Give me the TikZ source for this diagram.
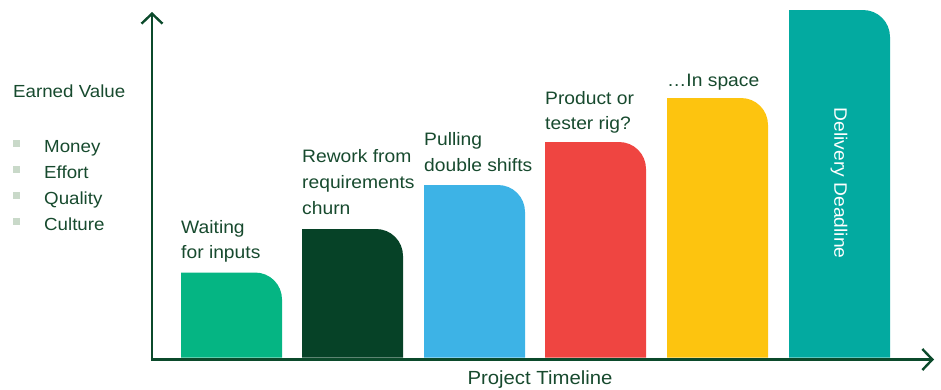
\documentclass[tikz,border=0pt]{standalone}
\usepackage{fontspec}
\setmainfont{Liberation Sans}[FakeStretch=1.07]
\usetikzlibrary{arrows.meta}
\definecolor{axisgreen}{HTML}{0B4A2B}
\definecolor{txtgreen}{HTML}{174A2E}
\definecolor{bulletgray}{HTML}{C9D9C9}
\definecolor{cA}{HTML}{05B583}
\definecolor{cB}{HTML}{064227}
\definecolor{cC}{HTML}{3DB3E6}
\definecolor{cD}{HTML}{EF4541}
\definecolor{cE}{HTML}{FDC40F}
\definecolor{cF}{HTML}{03AAA0}
\newcommand\evbar[3]{% color, left x, top y
  \fill[#1] (#2,357.5) -- (#2,#3) -- ({#2+101-27},#3)
    .. controls ({#2+101-12},#3) and ({#2+101},{#3+12}) .. ({#2+101},{#3+27})
    -- ({#2+101},357.5) -- cycle;}
\begin{document}
\begin{tikzpicture}[x=1pt,y=-1pt,
  lbl/.style={anchor=base west, inner sep=0pt, text=txtgreen, font=\fontsize{18}{20}\selectfont},
  leg/.style={anchor=base west, inner sep=0pt, text=txtgreen, font=\fontsize{17.5}{20}\selectfont},
  axisline/.style={draw=axisgreen, line width=2.4pt, -{Straight Barb[length=10pt,width=21pt,line width=2.4pt]}},
  bul/.style={fill=bulletgray}]
\useasboundingbox (0,0) rectangle (941,389);
% bars
\evbar{cA}{181}{272.5}
\evbar{cB}{302}{229}
\evbar{cC}{424}{185}
\evbar{cD}{545}{142}
\evbar{cE}{667}{98}
\evbar{cF}{789}{10}
% axes
\coordinate (O) at (152,359.5);
\coordinate (ytop) at (152,12);
\coordinate (xend) at (934,359.5);
\draw[axisline] (O) -- (ytop);
\draw[axisline] ([xshift=-1.2pt]O) -- (xend);
% bar labels
\node[lbl] (w1) at (181,233) {Waiting};
\node[lbl] (w2) at (181,258) {for inputs};
\node[lbl] (r1) at (302,162) {Rework from};
\node[lbl] (r2) at (302,188) {requirements};
\node[lbl] (r3) at (302,214) {churn};
\node[lbl] (p1) at (424,145) {Pulling};
\node[lbl] (p2) at (424,171) {double shifts};
\node[lbl] (t1) at (545,104) {Product or};
\node[lbl] (t2) at (545,129) {tester rig?};
\node[lbl] (s1) at (667,86) {…In space};
\node[anchor=center, rotate=-90, inner sep=0pt, text=white, font=\fontsize{18}{20}\selectfont] (dd) at (839,183) {Delivery Deadline};
% legend
\node[leg] (ev) at (13,97.5) {Earned Value};
\fill[bul] (12.5,139.5) rectangle (20,147);
\fill[bul] (12.5,165.5) rectangle (20,173);
\fill[bul] (12.5,191.5) rectangle (20,199);
\fill[bul] (12.5,217.5) rectangle (20,225);
\node[leg] (m1) at (44,152) {Money};
\node[leg] (m2) at (44,178) {Effort};
\node[leg] (m3) at (44,204) {Quality};
\node[leg] (m4) at (44,230) {Culture};
% x axis label
\node[anchor=base, inner sep=0pt, text=txtgreen, font=\fontsize{19}{20}\selectfont] (pt) at (540,384) {Project Timeline};
\end{tikzpicture}
\end{document}
